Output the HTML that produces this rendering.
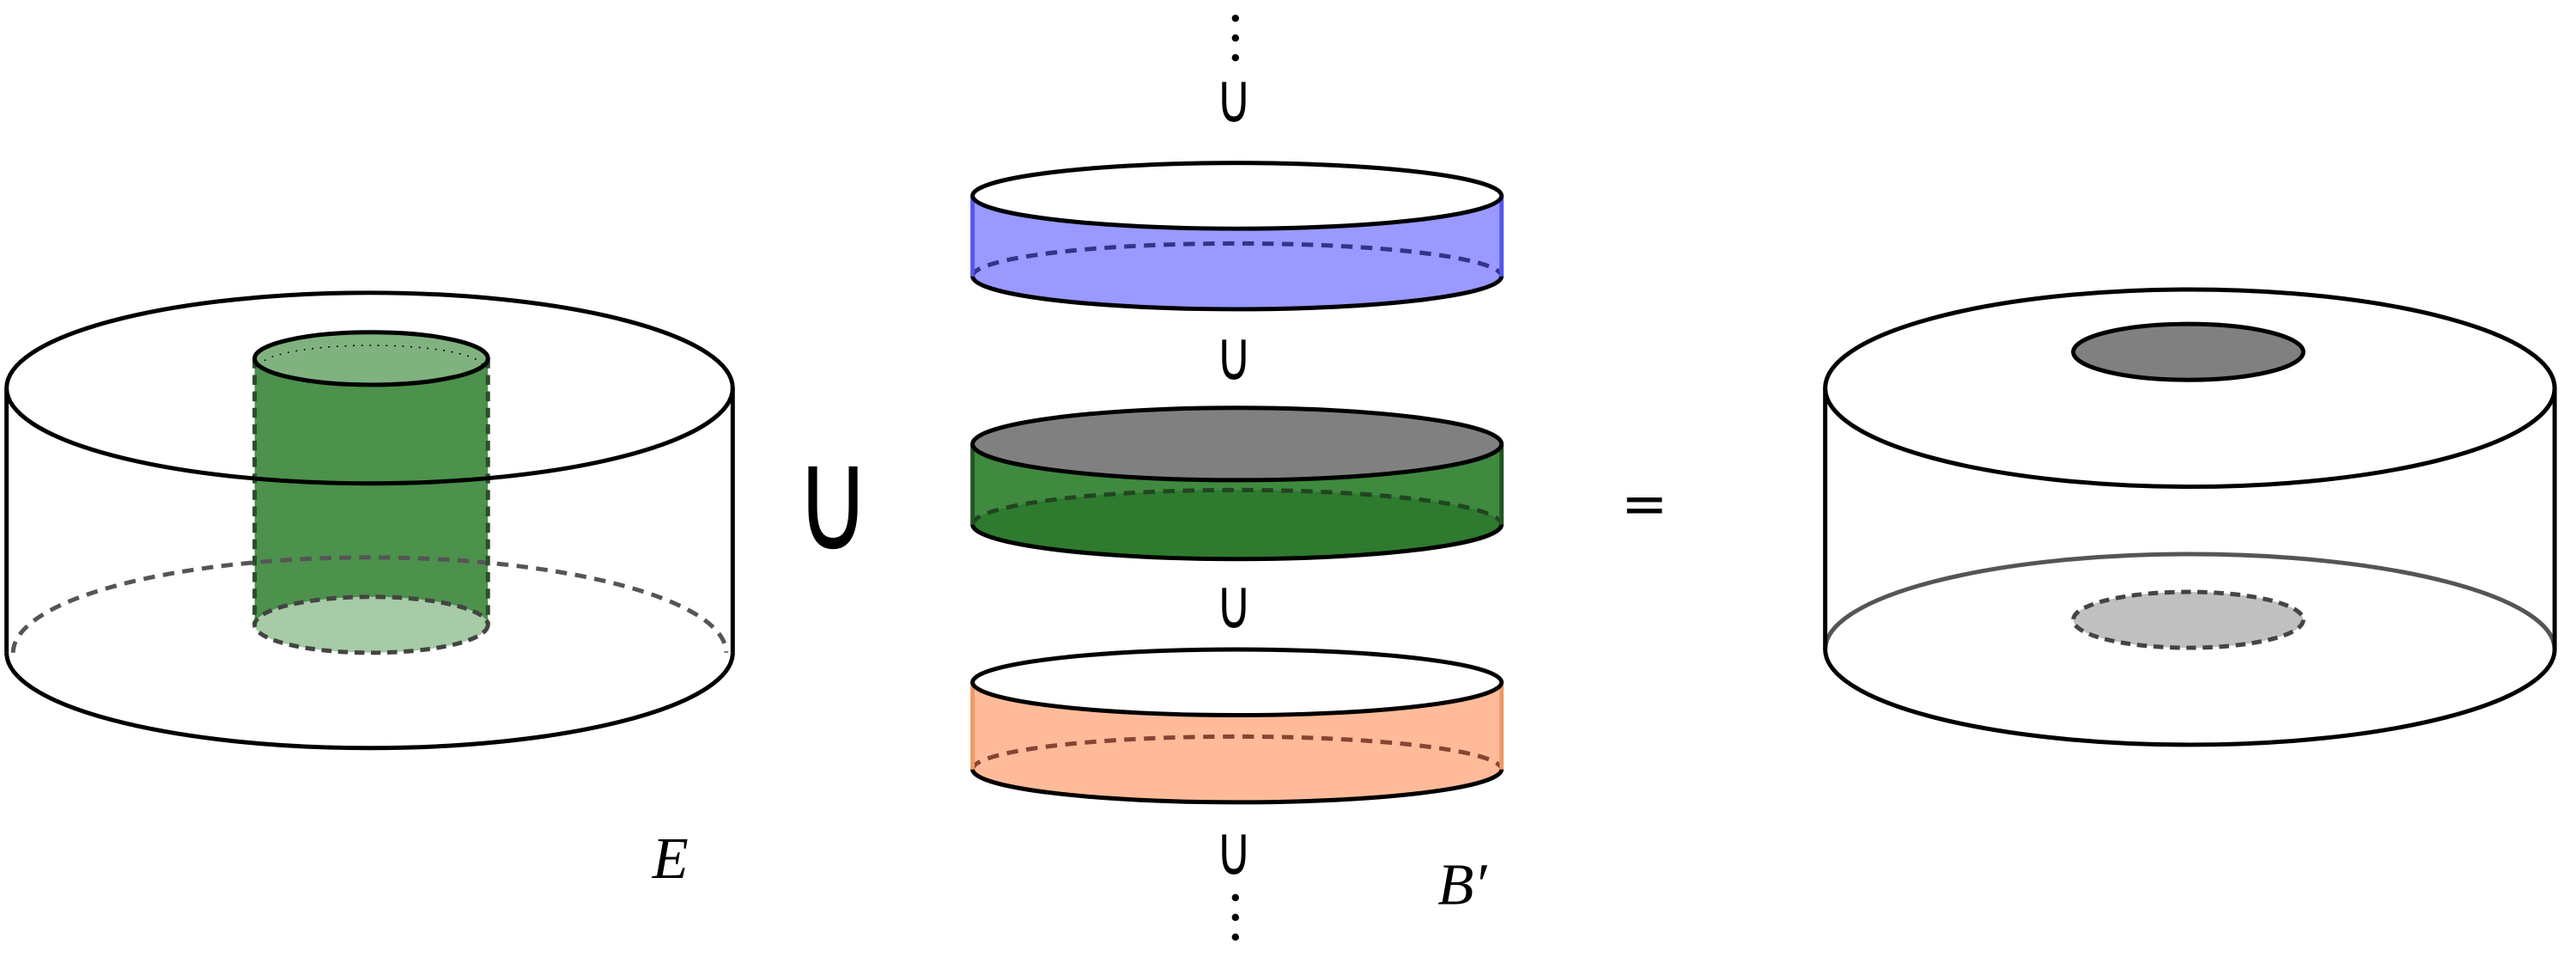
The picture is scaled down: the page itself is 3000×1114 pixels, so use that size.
<!DOCTYPE html>
<html><head><meta charset="utf-8"><style>html,body{margin:0;padding:0;background:#fff}svg{display:block}</style></head>
<body>
<svg width="3000" height="1114" viewBox="0 0 1568 582" xmlns="http://www.w3.org/2000/svg">
<g stroke-width="2.6" fill="none">
  <path d="M4,397 A221,58 0 0 0 446,397" stroke="#000"/>
  <rect x="155" y="218" width="142" height="162" fill="#4c914c" stroke="none"/>
  <path d="M8,397 A217,58 0 0 1 442,397" stroke="#555" stroke-dasharray="7,5"/>
  <ellipse cx="226" cy="380" rx="71" ry="17" fill="#a6cba6" stroke="#444" stroke-dasharray="6,4"/>
  <line x1="155" y1="218" x2="155" y2="380" stroke="#2c4c2c" stroke-dasharray="6,4"/>
  <line x1="297" y1="218" x2="297" y2="380" stroke="#2c4c2c" stroke-dasharray="6,4"/>
  <ellipse cx="226" cy="218" rx="71" ry="16" fill="#7fb27f" stroke="#000"/>
  <path d="M158,222 A68,13 0 0 1 294,222" stroke="#000" stroke-width="0.8" stroke-dasharray="1,4" transform="translate(0,1)"/>
  <ellipse cx="225" cy="236" rx="221" ry="58" stroke="#000"/>
  <line x1="4" y1="236" x2="4" y2="397" stroke="#000"/>
  <line x1="446" y1="236" x2="446" y2="397" stroke="#000"/>
</g>
<text x="0" y="0" transform="translate(507,334) scale(1.05,1.45)" font-family="DejaVu Sans, sans-serif" font-size="60" text-anchor="middle">∪</text>
<text x="408" y="534" font-family="Liberation Serif, serif" font-style="italic" font-size="36" text-anchor="middle">E</text>

<g stroke-width="2.6">
  <g>
    <path d="M592,119 L592,168 A161,20 0 0 0 914,168 L914,119 Z" fill="#9999ff" stroke="none"/>
    <path d="M592,168 A161,20 0 0 1 914,168" fill="none" stroke="#333388" stroke-dasharray="7,5"/>
    <path d="M592,168 A161,20 0 0 0 914,168" fill="none" stroke="#000"/>
    <line x1="592" y1="119" x2="592" y2="168" stroke="#5555ee"/><line x1="914" y1="119" x2="914" y2="168" stroke="#5555ee"/>
    <ellipse cx="753" cy="119" rx="161" ry="20" fill="#fff" stroke="#000"/>
  </g>
  <g>
    <path d="M592,270 L592,319 A161,21 0 0 0 914,319 L914,270 Z" fill="#3f8a3f" stroke="none"/>
    <path d="M592,319 A161,21 0 0 1 914,319 Z" fill="#2e7a2e" stroke="none"/>
    <path d="M592,319 A161,21 0 0 1 914,319" fill="none" stroke="#224422" stroke-dasharray="7,5"/>
    <path d="M592,319 A161,21 0 0 0 914,319" fill="#2e7a2e" stroke="#000"/>
    <line x1="592" y1="270" x2="592" y2="319" stroke="#225522"/><line x1="914" y1="270" x2="914" y2="319" stroke="#225522"/>
    <ellipse cx="753" cy="270" rx="161" ry="22" fill="#808080" stroke="#000"/>
  </g>
  <g>
    <path d="M592,415 L592,468 A161,20 0 0 0 914,468 L914,415 Z" fill="#ffbb99" stroke="none"/>
    <path d="M592,468 A161,20 0 0 1 914,468" fill="none" stroke="#884433" stroke-dasharray="7,5"/>
    <path d="M592,468 A161,20 0 0 0 914,468" fill="none" stroke="#000"/>
    <line x1="592" y1="415" x2="592" y2="468" stroke="#ee9966"/><line x1="914" y1="415" x2="914" y2="468" stroke="#ee9966"/>
    <ellipse cx="753" cy="415" rx="161" ry="20" fill="#fff" stroke="#000"/>
  </g>
</g>
<g font-family="DejaVu Sans, sans-serif" font-weight="300" font-size="30" text-anchor="middle">
  <text transform="translate(751,74) scale(1,1.4)">∪</text>
  <text transform="translate(751,231) scale(1,1.4)">∪</text>
  <text transform="translate(751,382) scale(1,1.4)">∪</text>
  <text transform="translate(751,532) scale(1,1.4)">∪</text>
</g>
<g fill="#000">
  <circle cx="752" cy="11" r="2.2"/><circle cx="752" cy="23" r="2.2"/><circle cx="752" cy="35" r="2.2"/>
  <circle cx="752" cy="546" r="2.2"/><circle cx="752" cy="558" r="2.2"/><circle cx="752" cy="570" r="2.2"/>
</g>
<text x="890" y="550" font-family="Liberation Serif, serif" font-style="italic" font-size="36" text-anchor="middle">B′</text>
<text x="1001" y="318" font-family="DejaVu Sans, sans-serif" font-size="34" text-anchor="middle">=</text>

<g stroke-width="2.6" fill="none">
  <path d="M1111,395 A222,58 0 0 1 1555,395" stroke="#555"/>
  <path d="M1111,395 A222,58 0 0 0 1555,395" stroke="#000"/>
  <ellipse cx="1332" cy="377" rx="70" ry="17" fill="#c0c0c0" stroke="#444" stroke-dasharray="6,4"/>
  <ellipse cx="1333" cy="236" rx="222" ry="60" stroke="#000"/>
  <ellipse cx="1332" cy="214" rx="70" ry="17" fill="#808080" stroke="#000"/>
  <line x1="1111" y1="236" x2="1111" y2="395" stroke="#000"/>
  <line x1="1555" y1="236" x2="1555" y2="395" stroke="#000"/>
</g>
</svg>
</body></html>
